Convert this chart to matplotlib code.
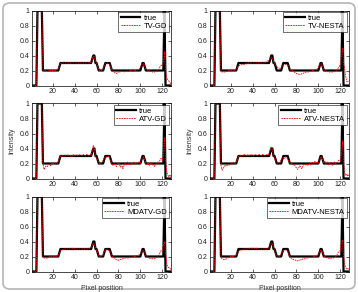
import matplotlib
matplotlib.use("Agg")
import matplotlib.pyplot as plt
from matplotlib.patches import FancyBboxPatch

plt.rcParams["font.family"] = ["Liberation Sans", "DejaVu Sans"]

# pixel positions 1..128
pixels = list(range(1, 129))

# ground truth profile
true_vals = ([0] * 5 + [1] * 5 + [0.2] * 15 + [0.25] + [0.3] * 29 + [0.35] + [0.4] * 2
             + [0.3, 0.3, 0.25] + [0.2] * 5 + [0.25] + [0.3] * 5 + [0.25] + [0.2] * 27
             + [0.25] + [0.3] * 2 + [0.25] + [0.2] * 17 + [1] + [0] * 6)

tv_gd = [0, 0, 0, 0, 0, 1, 1, 1,
         1, 1, 0.21, 0.2, 0.2, 0.19, 0.19, 0.2,
         0.2, 0.2, 0.2, 0.2, 0.2, 0.2, 0.2, 0.21,
         0.22, 0.26, 0.29, 0.29, 0.3, 0.3, 0.3, 0.3,
         0.3, 0.3, 0.3, 0.3, 0.3, 0.3, 0.3, 0.3,
         0.3, 0.3, 0.3, 0.3, 0.3, 0.3, 0.3, 0.3,
         0.3, 0.3, 0.3, 0.3, 0.3, 0.31, 0.31, 0.35,
         0.39, 0.38, 0.33, 0.29, 0.25, 0.21, 0.2, 0.2,
         0.21, 0.23, 0.27, 0.29, 0.3, 0.3, 0.29, 0.28,
         0.24, 0.2, 0.19, 0.17, 0.17, 0.16, 0.17, 0.18,
         0.18, 0.18, 0.19, 0.19, 0.18, 0.18, 0.19, 0.19,
         0.19, 0.19, 0.2, 0.19, 0.19, 0.2, 0.2, 0.2,
         0.21, 0.21, 0.22, 0.24, 0.27, 0.29, 0.29, 0.26,
         0.22, 0.21, 0.2, 0.2, 0.19, 0.19, 0.18, 0.18,
         0.18, 0.19, 0.19, 0.2, 0.22, 0.25, 0.27, 0.27,
         0.3, 0.45, 0.22, 0.1, 0.08, 0.06, 0.04, 0.02]

tv_nesta = [0, 0, 0, 0, 0, 1, 1, 1,
            1, 1, 0.19, 0.18, 0.18, 0.18, 0.18, 0.19,
            0.19, 0.2, 0.2, 0.2, 0.2, 0.2, 0.2, 0.21,
            0.22, 0.24, 0.26, 0.27, 0.27, 0.28, 0.28, 0.28,
            0.29, 0.29, 0.29, 0.3, 0.3, 0.3, 0.3, 0.3,
            0.3, 0.3, 0.3, 0.3, 0.3, 0.3, 0.3, 0.3,
            0.3, 0.3, 0.3, 0.31, 0.32, 0.33, 0.34, 0.36,
            0.38, 0.37, 0.33, 0.29, 0.27, 0.25, 0.24, 0.23,
            0.23, 0.24, 0.25, 0.27, 0.28, 0.28, 0.28, 0.27,
            0.25, 0.22, 0.2, 0.2, 0.19, 0.18, 0.17, 0.16,
            0.15, 0.15, 0.15, 0.15, 0.16, 0.16, 0.17, 0.17,
            0.18, 0.18, 0.18, 0.19, 0.19, 0.2, 0.2, 0.21,
            0.21, 0.22, 0.22, 0.24, 0.27, 0.29, 0.29, 0.26,
            0.22, 0.2, 0.19, 0.19, 0.18, 0.18, 0.18, 0.18,
            0.18, 0.18, 0.19, 0.2, 0.21, 0.23, 0.25, 0.28,
            0.38, 0.5, 0.3, 0.22, 0.12, 0.05, 0.05, 0.05]

atv_gd = [0, 0, 0, 0, 0, 1, 1, 1,
          1, 1, 0.2, 0.12, 0.15, 0.17, 0.16, 0.18,
          0.19, 0.17, 0.2, 0.19, 0.21, 0.2, 0.19, 0.2,
          0.22, 0.27, 0.3, 0.29, 0.31, 0.3, 0.29, 0.31,
          0.3, 0.32, 0.3, 0.31, 0.29, 0.31, 0.32, 0.3,
          0.31, 0.32, 0.3, 0.31, 0.32, 0.31, 0.3, 0.32,
          0.31, 0.3, 0.32, 0.31, 0.3, 0.32, 0.31, 0.37,
          0.44, 0.4, 0.3, 0.27, 0.25, 0.21, 0.19, 0.2,
          0.22, 0.24, 0.28, 0.27, 0.29, 0.28, 0.3, 0.27,
          0.23, 0.2, 0.17, 0.2, 0.18, 0.16, 0.19, 0.21,
          0.18, 0.15, 0.19, 0.13, 0.17, 0.2, 0.18, 0.22,
          0.19, 0.2, 0.18, 0.21, 0.2, 0.22, 0.19, 0.21,
          0.2, 0.22, 0.21, 0.2, 0.26, 0.28, 0.29, 0.25,
          0.2, 0.18, 0.21, 0.17, 0.2, 0.22, 0.18, 0.2,
          0.16, 0.19, 0.21, 0.22, 0.2, 0.25, 0.27, 0.24,
          0.3, 0.55, 0.25, 0.1, 0.05, 0.02, 0.05, 0.02]

atv_nesta = [0, 0, 0, 0, 0, 1, 1, 1,
             1, 1, 0.18, 0.11, 0.14, 0.17, 0.16, 0.18,
             0.17, 0.19, 0.18, 0.2, 0.19, 0.21, 0.2, 0.2,
             0.22, 0.26, 0.29, 0.3, 0.3, 0.31, 0.3, 0.32,
             0.31, 0.3, 0.32, 0.31, 0.3, 0.32, 0.31, 0.32,
             0.3, 0.31, 0.32, 0.3, 0.31, 0.32, 0.31, 0.3,
             0.32, 0.31, 0.3, 0.31, 0.32, 0.31, 0.33, 0.38,
             0.42, 0.38, 0.31, 0.28, 0.24, 0.21, 0.2, 0.21,
             0.22, 0.25, 0.27, 0.28, 0.27, 0.29, 0.28, 0.26,
             0.23, 0.21, 0.19, 0.2, 0.18, 0.19, 0.16, 0.14,
             0.12, 0.14, 0.17, 0.15, 0.13, 0.17, 0.19, 0.18,
             0.2, 0.17, 0.19, 0.21, 0.18, 0.2, 0.22, 0.2,
             0.23, 0.21, 0.22, 0.21, 0.25, 0.28, 0.29, 0.25,
             0.21, 0.23, 0.2, 0.22, 0.18, 0.2, 0.22, 0.19,
             0.17, 0.2, 0.22, 0.19, 0.21, 0.23, 0.25, 0.24,
             0.3, 0.5, 0.22, 0.08, 0.04, 0.06, 0.03, 0.05]

mdatv_gd = [0, 0, 0, 0, 0, 1, 1, 1,
            1, 1, 0.2, 0.18, 0.18, 0.18, 0.18, 0.19,
            0.2, 0.2, 0.2, 0.2, 0.2, 0.2, 0.2, 0.21,
            0.22, 0.26, 0.28, 0.29, 0.29, 0.3, 0.3, 0.3,
            0.3, 0.3, 0.3, 0.3, 0.31, 0.31, 0.3, 0.3,
            0.3, 0.3, 0.3, 0.3, 0.3, 0.3, 0.3, 0.3,
            0.3, 0.3, 0.3, 0.3, 0.31, 0.31, 0.32, 0.35,
            0.38, 0.37, 0.32, 0.28, 0.25, 0.21, 0.2, 0.2,
            0.21, 0.23, 0.27, 0.29, 0.29, 0.29, 0.28, 0.27,
            0.24, 0.2, 0.19, 0.18, 0.17, 0.16, 0.15, 0.15,
            0.16, 0.16, 0.17, 0.17, 0.17, 0.18, 0.18, 0.18,
            0.18, 0.19, 0.19, 0.19, 0.19, 0.2, 0.2, 0.21,
            0.21, 0.22, 0.22, 0.24, 0.27, 0.28, 0.28, 0.25,
            0.21, 0.2, 0.19, 0.18, 0.17, 0.17, 0.17, 0.17,
            0.17, 0.18, 0.19, 0.2, 0.22, 0.25, 0.28, 0.28,
            0.35, 0.4, 0.25, 0.12, 0.06, 0.05, 0.04, 0.03]

mdatv_nesta = [0, 0, 0, 0, 0, 1, 1, 1,
               1, 1, 0.19, 0.17, 0.16, 0.16, 0.16, 0.17,
               0.18, 0.19, 0.19, 0.2, 0.2, 0.2, 0.2, 0.21,
               0.22, 0.25, 0.27, 0.28, 0.29, 0.29, 0.29, 0.3,
               0.3, 0.3, 0.3, 0.3, 0.31, 0.31, 0.31, 0.31,
               0.31, 0.31, 0.31, 0.31, 0.3, 0.3, 0.3, 0.3,
               0.3, 0.3, 0.3, 0.3, 0.3, 0.31, 0.32, 0.35,
               0.38, 0.37, 0.33, 0.28, 0.24, 0.21, 0.2, 0.2,
               0.21, 0.23, 0.26, 0.28, 0.29, 0.29, 0.28, 0.27,
               0.23, 0.2, 0.18, 0.17, 0.16, 0.16, 0.15, 0.15,
               0.14, 0.15, 0.15, 0.16, 0.16, 0.17, 0.17, 0.17,
               0.18, 0.18, 0.18, 0.19, 0.19, 0.19, 0.2, 0.2,
               0.2, 0.21, 0.21, 0.23, 0.26, 0.28, 0.28, 0.25,
               0.21, 0.2, 0.19, 0.18, 0.18, 0.17, 0.17, 0.18,
               0.18, 0.18, 0.19, 0.2, 0.22, 0.25, 0.27, 0.28,
               0.38, 0.42, 0.2, 0.1, 0.05, 0.03, 0.04, 0.02]

method_names = ["TV-GD", "TV-NESTA", "ATV-GD", "ATV-NESTA", "MDATV-GD", "MDATV-NESTA"]
recovered = [tv_gd, tv_nesta, atv_gd, atv_nesta, mdatv_gd, mdatv_nesta]

xticks = [20, 40, 60, 80, 100, 120]
yticks = [0, 0.2, 0.4, 0.6, 0.8, 1]
ytick_labels = ["0", "0.2", "0.4", "0.6", "0.8", "1"]

W, H = 358, 292
fig = plt.figure(figsize=(W / 100, H / 100), dpi=100)

# rounded frame around the whole figure
frame = FancyBboxPatch((3 / W, 3 / H), 1 - 6 / W, 1 - 6 / H,
                       boxstyle="round,pad=0,rounding_size=0.02",
                       transform=fig.transFigure, facecolor="white",
                       edgecolor="#b5b5b5", linewidth=1.2, zorder=-1)
fig.patches.append(frame)

col_left = [32 / W, 210 / W]
row_bottom = [1 - 85.5 / H, 1 - 178.5 / H, 1 - 271.5 / H]
ax_w = 139 / W
ax_h = 75 / H

for i, (name, vals) in enumerate(zip(method_names, recovered)):
    r, c = divmod(i, 2)
    ax = fig.add_axes([col_left[c], row_bottom[r], ax_w, ax_h])
    ax.plot(pixels, true_vals, color="black", linewidth=1.6, label="true")
    ax.plot(pixels, vals, color="red", linestyle=(0, (2, 1)), linewidth=0.6, label=name)
    ax.set_xlim(1, 128)
    ax.set_ylim(0, 1)
    ax.set_xticks(xticks)
    ax.set_yticks(yticks)
    ax.set_yticklabels(ytick_labels)
    ax.tick_params(direction="in", length=2, width=0.5, labelsize=5, pad=2,
                   top=True, right=True, colors="#222222")
    for s in ax.spines.values():
        s.set_linewidth(0.5)
    leg = ax.legend(loc="upper right", fontsize=5.5, frameon=True, fancybox=False,
                    borderpad=0.3, labelspacing=0.1, handlelength=2.6,
                    handletextpad=0.4, borderaxespad=0.25)
    leg.get_frame().set_edgecolor("black")
    leg.get_frame().set_linewidth(0.5)
    if r == 1:
        ax.set_ylabel("Intensity", fontsize=5, color="#333333", labelpad=3)
    if r == 2:
        ax.set_xlabel("Pixel position", fontsize=5, color="#333333", labelpad=3)

fig.savefig("out.png", dpi=100)
